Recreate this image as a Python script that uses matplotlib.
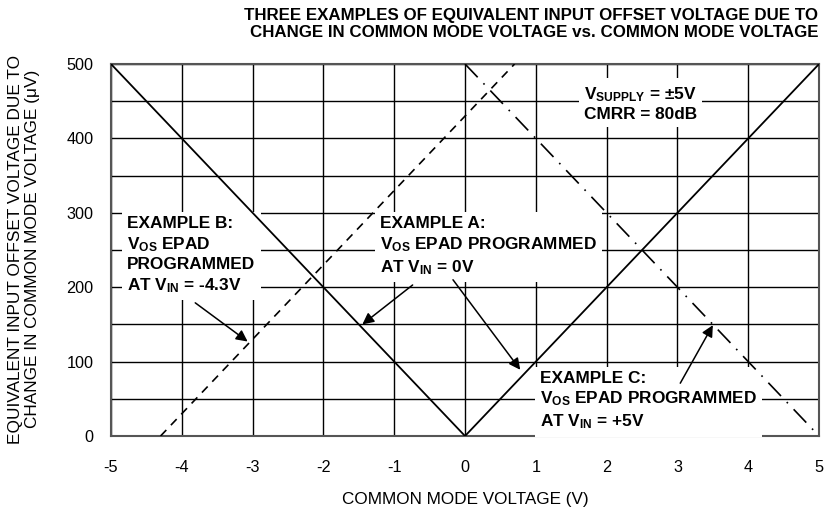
import matplotlib
matplotlib.use('Agg')
import matplotlib.pyplot as plt

plt.rcParams['font.family'] = ['Liberation Sans', 'DejaVu Sans']
plt.rcParams['mathtext.fontset'] = 'custom'
plt.rcParams['mathtext.rm'] = 'Liberation Sans'
plt.rcParams['mathtext.bf'] = 'Liberation Sans:bold'
plt.rcParams['mathtext.it'] = 'Liberation Sans:italic'

# ---- data (CMRR = 80 dB -> 100 uV per volt) ----
a_volts = [-5, 0, 5]
a_offset = [500, 0, 500]
b_volts = [-4.3, 0.7]
b_offset = [0, 500]
c_volts = [0, 5]
c_offset = [500, 0]

x_ticks = [-5, -4, -3, -2, -1, 0, 1, 2, 3, 4, 5]
y_ticks = [0, 100, 200, 300, 400, 500]

fig = plt.figure(figsize=(8.24, 5.12), dpi=100)
ax = fig.add_axes([0.1347, 0.1484, 0.8593, 0.7266])

ax.plot(a_volts, a_offset, color='black', lw=1.3, zorder=4)
ax.plot(b_volts, b_offset, color='black', lw=1.2, ls=(0, (5, 4)), zorder=4)
ax.plot(c_volts, c_offset, color='black', lw=1.2, ls=(0, (11, 5, 1, 5)), zorder=4)

ax.set_xlim(-5, 5)
ax.set_ylim(0, 500)
ax.set_xticks(x_ticks)
ax.set_xticklabels([str(t) for t in x_ticks])
ax.set_yticks(y_ticks)
ax.set_yticks(range(0, 501, 50), minor=True)
ax.tick_params(which='both', length=0, labelsize=11.7)
ax.tick_params(axis='y', pad=12.5)
ax.tick_params(axis='x', pad=17)
ax.grid(True, which='both', color='black', lw=1.0)
ax.set_axisbelow(True)
for s in ax.spines.values():
    s.set_color('#555555')
    s.set_linewidth(1.5)

ax.set_xlabel('COMMON MODE VOLTAGE (V)', fontsize=12.3)
ax.xaxis.set_label_coords(0.5, -0.15)
fig.text(0.029, 0.513, 'EQUIVALENT INPUT OFFSET VOLTAGE DUE TO\nCHANGE IN COMMON MODE VOLTAGE (\u03bcV)',
         fontsize=12.4, rotation=90, ha='center', va='center', multialignment='center', linespacing=1.15)
fig.text(0.993, 0.985, 'THREE EXAMPLES OF EQUIVALENT INPUT OFFSET VOLTAGE DUE TO\n'
         'CHANGE IN COMMON MODE VOLTAGE vs. COMMON MODE VOLTAGE',
         fontsize=12.2, fontweight='bold', ha='right', va='top', multialignment='right', linespacing=1.2)

box = dict(boxstyle='square,pad=0.3', facecolor='white', edgecolor='none')
arrow = dict(arrowstyle='-|>', color='black', lw=1.1, mutation_scale=17, shrinkA=0, shrinkB=0)
kw = dict(fontsize=12.4, fontweight='bold', va='top', ha='left', linespacing=1.3, zorder=3, bbox=box)

ax.text(-4.77, 296, 'EXAMPLE B:\n$\\mathbf{V_{OS}}$ EPAD\nPROGRAMMED\nAT $\\mathbf{V_{IN}}$ = -4.3V', **kw)
ax.text(-1.2, 296, 'EXAMPLE A:\n$\\mathbf{V_{OS}}$ EPAD PROGRAMMED\nAT $\\mathbf{V_{IN}}$ = 0V', **kw)
ax.text(1.06, 88, 'EXAMPLE C:\n$\\mathbf{V_{OS}}$ EPAD PROGRAMMED\nAT $\\mathbf{V_{IN}}$ = +5V', **kw)
ax.text(1.68, 472, '$\\mathbf{V_{SUPPLY}}$ = \u00b15V\nCMRR = 80dB', **kw)

ax.annotate('', xy=(-3.07, 127), xytext=(-3.81, 179), arrowprops=arrow, zorder=5)
ax.annotate('', xy=(-1.45, 150), xytext=(-0.74, 203), arrowprops=arrow, zorder=5)
ax.annotate('', xy=(0.78, 89), xytext=(-0.17, 210), arrowprops=arrow, zorder=5)
ax.annotate('', xy=(3.5, 149), xytext=(3.04, 71), arrowprops=arrow, zorder=5)

fig.savefig('out.png', dpi=100)
